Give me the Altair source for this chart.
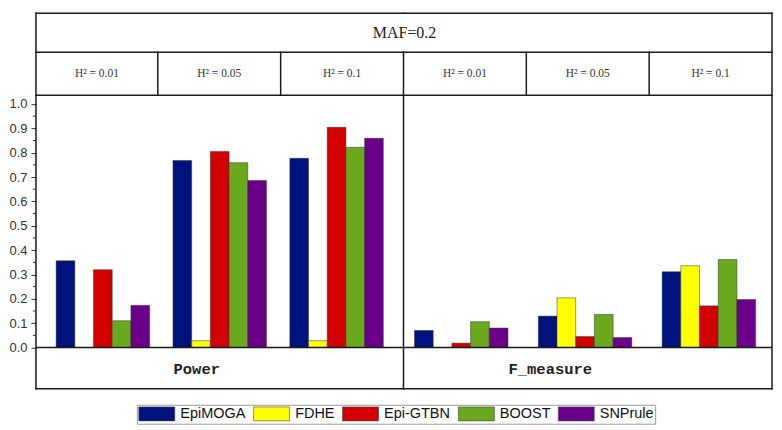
import altair as alt
import pandas as pd

groups = ["0.01", "0.05", "0.1"]
h2_labels = ["H² = 0.01", "H² = 0.05", "H² = 0.1"]
methods = ["EpiMOGA", "FDHE", "Epi-GTBN", "BOOST", "SNPrule"]
colors = ["#00127e", "#ffff00", "#d20000", "#6aa81d", "#6a008a"]
metrics = ["Power", "F_measure"]
title_text = "MAF=0.2"

power_epimoga = [0.356, 0.768, 0.777]
power_fdhe = [0.0, 0.028, 0.028]
power_epigtbn = [0.319, 0.805, 0.904]
power_boost = [0.110, 0.759, 0.822]
power_snprule = [0.173, 0.686, 0.859]

fm_epimoga = [0.070, 0.129, 0.311]
fm_fdhe = [0.0, 0.204, 0.336]
fm_epigtbn = [0.018, 0.045, 0.171]
fm_boost = [0.106, 0.136, 0.361]
fm_snprule = [0.080, 0.041, 0.197]

y_ticks = [0.0, 0.1, 0.2, 0.3, 0.4, 0.5, 0.6, 0.7, 0.8, 0.9, 1.0]
y_minor = [0.05, 0.15, 0.25, 0.35, 0.45, 0.55, 0.65, 0.75, 0.85, 0.95]


def long(series_lists):
    rows = []
    for m, vals in zip(methods, series_lists):
        for g, v in zip(groups, vals):
            rows.append({"h2": g, "method": m, "value": v})
    return pd.DataFrame(rows)


df_power = long([power_epimoga, power_fdhe, power_epigtbn, power_boost, power_snprule])
df_fm = long([fm_epimoga, fm_fdhe, fm_epigtbn, fm_boost, fm_snprule])

H = 376
WL, WR = 368, 369
ROW1, ROW2 = 39, 82
YMIN, YMAX = -0.1693, 1.3723
LINE = "#1a1a1a"
one = pd.DataFrame({"k": [0]})

legend = alt.Legend(
    orient="none", legendX=101, legendY=392, direction="horizontal", title=None,
    symbolType="M-1,-1H4.143V1H-1Z", symbolSize=196, symbolStrokeColor="#444",
    symbolStrokeWidth=0.6, symbolOpacity=1, labelOffset=27,
    labelFont="Liberation Sans", labelFontSize=14.5, labelColor="#111",
    columnPadding=6, padding=1.5, strokeColor="#9a9a9a", fillColor="white",
)


def hline(y, x1, x2):
    return alt.Chart(one).mark_rule(color=LINE, strokeWidth=1.5, strokeCap="square").encode(
        x=alt.value(x1), x2=alt.value(x2), y=alt.value(y))


def vline(x, y1, y2):
    return alt.Chart(one).mark_rule(color=LINE, strokeWidth=1.5, strokeCap="square").encode(
        x=alt.value(x), y=alt.value(y1), y2=alt.value(y2))


def label(text, x, y, font, size, weight="normal", color="#222"):
    return alt.Chart(one).mark_text(text=text, font=font, fontSize=size, fontWeight=weight,
                                    color=color, align="center", baseline="middle").encode(
        x=alt.value(x), y=alt.value(y))


def panel(df, width, pin, pout, show_axis, metric, metric_x, dividers, with_title):
    yscale = alt.Scale(domain=[YMIN, YMAX], nice=False)
    if show_axis:
        yaxis = alt.Axis(values=y_ticks, format=".1f", title=None, domain=False, grid=False,
                         tickSize=5, tickColor="#333", tickWidth=1, labelFont="Liberation Sans",
                         labelFontSize=13, labelColor="#333", labelPadding=4)
    else:
        yaxis = None
    bars = alt.Chart(df).mark_bar(stroke="#333", strokeWidth=0.5).encode(
        x=alt.X("h2:N", sort=groups, axis=None,
                scale=alt.Scale(paddingInner=pin, paddingOuter=pout)),
        xOffset=alt.XOffset("method:N", sort=methods,
                            scale=alt.Scale(domain=methods, paddingInner=0, paddingOuter=0)),
        y=alt.Y("value:Q", scale=yscale, axis=yaxis),
        color=alt.Color("method:N", sort=methods,
                        scale=alt.Scale(domain=methods, range=colors), legend=legend),
    )
    layers = [bars]
    zero = alt.Chart(pd.DataFrame({"value": [0.0]})).mark_rule(color=LINE, strokeWidth=1.5).encode(
        y=alt.Y("value:Q", scale=yscale, axis=yaxis), x=alt.value(0), x2=alt.value(width))
    layers.append(zero)
    if show_axis:
        minor = alt.Chart(pd.DataFrame({"value": y_minor})).mark_rule(color="#333", strokeWidth=1).encode(
            y=alt.Y("value:Q", scale=yscale, axis=yaxis), x=alt.value(-3), x2=alt.value(0))
        layers.append(minor)
    layers += [hline(0, 0, width), hline(ROW1, 0, width), hline(ROW2, 0, width), hline(H, 0, width)]
    layers.append(vline(0, 0 if show_axis else ROW1, H))
    if not show_axis:
        layers.append(vline(width, 0, H))
    for d in dividers:
        layers.append(vline(d, ROW1, ROW2))
    bounds = [0] + dividers + [width]
    for i, t in enumerate(h2_labels):
        cx = (bounds[i] + bounds[i + 1]) / 2
        layers.append(label(t, cx, (ROW1 + ROW2) / 2, "Liberation Serif", 11.5, color="#333"))
    layers.append(label(metric, metric_x, 356, "Liberation Mono", 15.5, weight="bold", color="#222"))
    if with_title:
        layers.append(label(title_text, width + 1, ROW1 / 2, "Liberation Serif", 16, color="#222"))
    return alt.layer(*layers).properties(width=width, height=H)


left = panel(df_power, WL, 0.2, 0.1726, True, metrics[0], 161, [122, 245], True)
right = panel(df_fm, WR, 0.2016, 0.089, False, metrics[1], 147, [123, 246], False)

chart = alt.hconcat(left, right, spacing=0, bounds="flush").properties(
    padding={"left": 0, "top": 3, "right": 0, "bottom": 0},
    background="white",
).configure_view(strokeWidth=0)

chart.save("out.html", embed_options={"renderer": "svg", "actions": False})
